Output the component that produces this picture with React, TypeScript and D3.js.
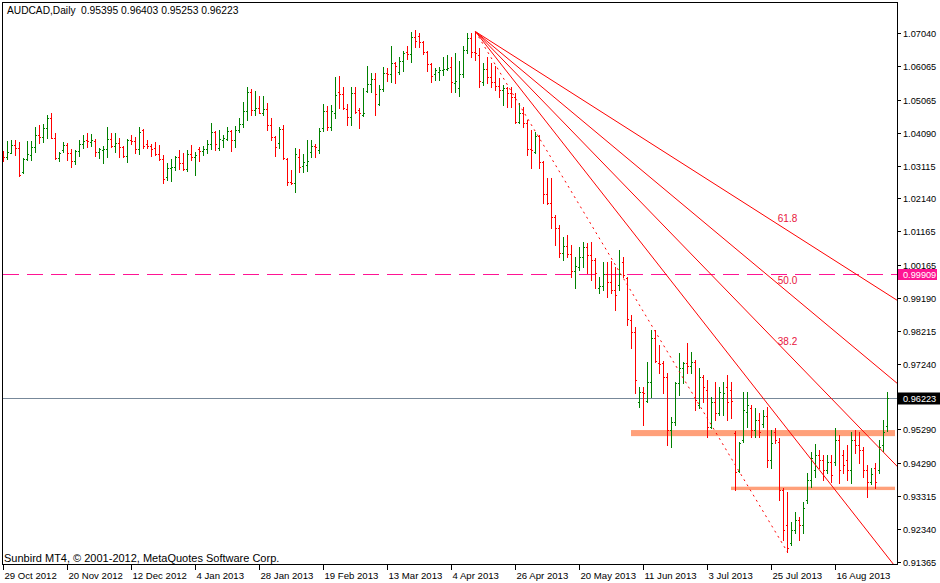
import React from 'react';
import * as d3 from 'd3';

const W = 940;
const H = 583;

// Daily OHLC, 29 Oct 2012 .. 2013-08 (bar index 0..221)
const opens = [
  1.0340, 1.0337, 1.0349, 1.0373, 1.0364, 1.0293, 1.0331, 1.0343, 1.0367, 1.0402,
  1.0396, 1.0423, 1.0453, 1.0393, 1.0334, 1.0358, 1.0373, 1.0349, 1.0325, 1.0355,
  1.0376, 1.0388, 1.0382, 1.0385, 1.0352, 1.0358, 1.0361, 1.0390, 1.0370, 1.0379,
  1.0367, 1.0340, 1.0388, 1.0385, 1.0361, 1.0417, 1.0376, 1.0370, 1.0364, 1.0346,
  1.0331, 1.0278, 1.0304, 1.0307, 1.0337, 1.0319, 1.0301, 1.0346, 1.0337, 1.0361,
  1.0355, 1.0361, 1.0376, 1.0411, 1.0364, 1.0388, 1.0390, 1.0414, 1.0388, 1.0417,
  1.0435, 1.0474, 1.0530, 1.0477, 1.0483, 1.0468, 1.0480, 1.0432, 1.0396, 1.0379,
  1.0420, 1.0331, 1.0263, 1.0260, 1.0337, 1.0310, 1.0313, 1.0352, 1.0370, 1.0358,
  1.0423, 1.0474, 1.0426, 1.0468, 1.0530, 1.0524, 1.0480, 1.0456, 1.0527, 1.0477,
  1.0462, 1.0533, 1.0554, 1.0568, 1.0494, 1.0539, 1.0586, 1.0583, 1.0616, 1.0589,
  1.0622, 1.0649, 1.0643, 1.0693, 1.0696, 1.0678, 1.0649, 1.0613, 1.0583, 1.0589,
  1.0595, 1.0598, 1.0604, 1.0557, 1.0542, 1.0583, 1.0655, 1.0690, 1.0649, 1.0640,
  1.0560, 1.0598, 1.0574, 1.0560, 1.0548, 1.0536, 1.0542, 1.0527, 1.0515, 1.0441,
  1.0468, 1.0438, 1.0361, 1.0352, 1.0399, 1.0322, 1.0228, 1.0201, 1.0159, 1.0126,
  1.0052, 1.0073, 1.0049, 0.9999, 1.0011, 1.0040, 1.0070, 1.0046, 1.0031, 0.9948,
  0.9954, 0.9990, 0.9966, 0.9942, 0.9957, 1.0025, 0.9978, 0.9854, 0.9818, 0.9610,
  0.9640, 0.9613, 0.9670, 0.9800, 0.9726, 0.9726, 0.9685, 0.9527, 0.9551, 0.9667,
  0.9711, 0.9726, 0.9717, 0.9729, 0.9601, 0.9685, 0.9646, 0.9536, 0.9610, 0.9578,
  0.9622, 0.9655, 0.9646, 0.9518, 0.9406, 0.9498, 0.9581, 0.9592, 0.9527, 0.9557,
  0.9545, 0.9569, 0.9438, 0.9521, 0.9492, 0.9349, 0.9245, 0.9192, 0.9231, 0.9260,
  0.9245, 0.9320, 0.9379, 0.9409, 0.9453, 0.9438, 0.9409, 0.9432, 0.9432, 0.9498,
  0.9453, 0.9438, 0.9409, 0.9498, 0.9483, 0.9468, 0.9409, 0.9373, 0.9415, 0.9409,
  0.9483, 0.95395,
];

const highs = [
  1.0355, 1.0385, 1.0388, 1.0388, 1.0382, 1.0334, 1.0385, 1.0385, 1.0426, 1.0432,
  1.0435, 1.0462, 1.0468, 1.0408, 1.0352, 1.0382, 1.0379, 1.0361, 1.0358, 1.0388,
  1.0402, 1.0408, 1.0405, 1.0390, 1.0364, 1.0370, 1.0426, 1.0408, 1.0408, 1.0393,
  1.0370, 1.0390, 1.0402, 1.0396, 1.0426, 1.0420, 1.0388, 1.0376, 1.0382, 1.0373,
  1.0343, 1.0319, 1.0331, 1.0340, 1.0358, 1.0349, 1.0358, 1.0373, 1.0352, 1.0367,
  1.0370, 1.0388, 1.0438, 1.0414, 1.0417, 1.0402, 1.0426, 1.0417, 1.0429, 1.0453,
  1.0500, 1.0545, 1.0539, 1.0533, 1.0518, 1.0518, 1.0497, 1.0453, 1.0399, 1.0426,
  1.0432, 1.0334, 1.0299, 1.0364, 1.0361, 1.0346, 1.0388, 1.0388, 1.0376, 1.0423,
  1.0494, 1.0488, 1.0491, 1.0574, 1.0577, 1.0545, 1.0494, 1.0545, 1.0545, 1.0483,
  1.0542, 1.0607, 1.0586, 1.0586, 1.0551, 1.0604, 1.0601, 1.0666, 1.0619, 1.0634,
  1.0652, 1.0666, 1.0708, 1.0714, 1.0705, 1.0681, 1.0652, 1.0616, 1.0601, 1.0604,
  1.0634, 1.0640, 1.0634, 1.0646, 1.0622, 1.0666, 1.0705, 1.0705, 1.0709, 1.0660,
  1.0616, 1.0634, 1.0616, 1.0607, 1.0571, 1.0551, 1.0545, 1.0545, 1.0527, 1.0497,
  1.0485, 1.0447, 1.0417, 1.0411, 1.0402, 1.0325, 1.0275, 1.0275, 1.0165, 1.0135,
  1.0100, 1.0106, 1.0076, 1.0040, 1.0070, 1.0085, 1.0082, 1.0085, 1.0037, 0.9981,
  1.0025, 1.0025, 1.0028, 1.0011, 1.0061, 1.0040, 0.9981, 0.9868, 0.9833, 0.9655,
  0.9655, 0.9729, 0.9824, 0.9824, 0.9779, 0.9732, 0.9696, 0.9566, 0.9670, 0.9756,
  0.9729, 0.9785, 0.9759, 0.9735, 0.9711, 0.9690, 0.9676, 0.9625, 0.9670, 0.9655,
  0.9670, 0.9690, 0.9670, 0.9524, 0.9492, 0.9640, 0.9640, 0.9601, 0.9592, 0.9578,
  0.9587, 0.9595, 0.9527, 0.9533, 0.9503, 0.9355, 0.9343, 0.9254, 0.9284, 0.9269,
  0.9314, 0.9400, 0.9462, 0.9486, 0.9468, 0.9453, 0.9453, 0.9453, 0.9533, 0.9512,
  0.9468, 0.9483, 0.9521, 0.9527, 0.9521, 0.9477, 0.9423, 0.9414, 0.9429, 0.9498,
  0.9557, 0.96403,
];

const lows = [
  1.0325, 1.0331, 1.0349, 1.0343, 1.0281, 1.0290, 1.0328, 1.0328, 1.0352, 1.0379,
  1.0382, 1.0393, 1.0393, 1.0331, 1.0325, 1.0352, 1.0328, 1.0307, 1.0316, 1.0340,
  1.0364, 1.0367, 1.0370, 1.0340, 1.0334, 1.0319, 1.0337, 1.0367, 1.0352, 1.0337,
  1.0337, 1.0322, 1.0376, 1.0349, 1.0346, 1.0364, 1.0364, 1.0340, 1.0343, 1.0328,
  1.0260, 1.0269, 1.0266, 1.0299, 1.0301, 1.0299, 1.0296, 1.0328, 1.0284, 1.0325,
  1.0343, 1.0349, 1.0361, 1.0358, 1.0358, 1.0367, 1.0388, 1.0355, 1.0367, 1.0411,
  1.0426, 1.0447, 1.0462, 1.0462, 1.0468, 1.0462, 1.0417, 1.0388, 1.0340, 1.0364,
  1.0331, 1.0254, 1.0257, 1.0233, 1.0293, 1.0293, 1.0296, 1.0337, 1.0337, 1.0349,
  1.0414, 1.0417, 1.0417, 1.0453, 1.0483, 1.0480, 1.0432, 1.0432, 1.0468, 1.0423,
  1.0459, 1.0530, 1.0530, 1.0462, 1.0491, 1.0533, 1.0563, 1.0560, 1.0557, 1.0583,
  1.0592, 1.0628, 1.0619, 1.0663, 1.0663, 1.0643, 1.0592, 1.0560, 1.0566, 1.0566,
  1.0580, 1.0595, 1.0530, 1.0530, 1.0518, 1.0574, 1.0646, 1.0634, 1.0625, 1.0545,
  1.0551, 1.0557, 1.0545, 1.0536, 1.0515, 1.0491, 1.0485, 1.0485, 1.0438, 1.0438,
  1.0426, 1.0343, 1.0304, 1.0349, 1.0304, 1.0201, 1.0198, 1.0126, 1.0076, 1.0040,
  1.0031, 1.0040, 0.9981, 0.9948, 1.0002, 1.0011, 0.9993, 0.9972, 0.9948, 0.9934,
  0.9942, 0.9922, 0.9934, 0.9883, 0.9942, 0.9981, 0.9838, 0.9770, 0.9637, 0.9595,
  0.9542, 0.9610, 0.9625, 0.9729, 0.9696, 0.9637, 0.9483, 0.9477, 0.9542, 0.9631,
  0.9667, 0.9696, 0.9696, 0.9587, 0.9592, 0.9610, 0.9507, 0.9533, 0.9557, 0.9572,
  0.9572, 0.9557, 0.9563, 0.9349, 0.9403, 0.9492, 0.9536, 0.9507, 0.9507, 0.9507,
  0.9536, 0.9417, 0.9414, 0.9489, 0.9320, 0.9201, 0.9165, 0.9186, 0.9222, 0.9201,
  0.9222, 0.9311, 0.9358, 0.9388, 0.9414, 0.9379, 0.9400, 0.9373, 0.9424, 0.9370,
  0.9400, 0.9379, 0.9370, 0.9459, 0.9429, 0.9388, 0.9329, 0.9367, 0.9355, 0.9400,
  0.9465, 0.95253,
];

const closes = [
  1.0337, 1.0352, 1.0373, 1.0364, 1.0284, 1.0331, 1.0346, 1.0367, 1.0402, 1.0396,
  1.0423, 1.0453, 1.0393, 1.0334, 1.0349, 1.0373, 1.0349, 1.0325, 1.0355, 1.0376,
  1.0385, 1.0385, 1.0388, 1.0352, 1.0361, 1.0361, 1.0390, 1.0370, 1.0379, 1.0367,
  1.0340, 1.0388, 1.0385, 1.0361, 1.0411, 1.0370, 1.0370, 1.0361, 1.0346, 1.0331,
  1.0272, 1.0304, 1.0307, 1.0337, 1.0319, 1.0301, 1.0346, 1.0337, 1.0343, 1.0355,
  1.0361, 1.0376, 1.0411, 1.0376, 1.0390, 1.0393, 1.0414, 1.0388, 1.0417, 1.0435,
  1.0474, 1.0530, 1.0477, 1.0483, 1.0468, 1.0480, 1.0432, 1.0396, 1.0367, 1.0420,
  1.0334, 1.0263, 1.0260, 1.0346, 1.0307, 1.0322, 1.0325, 1.0370, 1.0367, 1.0414,
  1.0474, 1.0426, 1.0474, 1.0521, 1.0524, 1.0483, 1.0456, 1.0527, 1.0471, 1.0468,
  1.0468, 1.0554, 1.0568, 1.0524, 1.0539, 1.0586, 1.0583, 1.0616, 1.0607, 1.0622,
  1.0646, 1.0643, 1.0693, 1.0681, 1.0678, 1.0649, 1.0613, 1.0577, 1.0595, 1.0595,
  1.0598, 1.0601, 1.0560, 1.0563, 1.0583, 1.0655, 1.0690, 1.0649, 1.0646, 1.0563,
  1.0598, 1.0574, 1.0560, 1.0548, 1.0536, 1.0542, 1.0527, 1.0515, 1.0441, 1.0468,
  1.0438, 1.0361, 1.0358, 1.0399, 1.0322, 1.0228, 1.0201, 1.0159, 1.0126, 1.0052,
  1.0073, 1.0049, 0.9999, 1.0013, 1.0040, 1.0070, 1.0046, 1.0031, 0.9993, 0.9954,
  0.9990, 0.9966, 0.9942, 0.9928, 0.9990, 0.9987, 0.9857, 0.9818, 0.9676, 0.9640,
  0.9637, 0.9670, 0.9800, 0.9732, 0.9723, 0.9685, 0.9527, 0.9551, 0.9667, 0.9711,
  0.9726, 0.9717, 0.9729, 0.9616, 0.9685, 0.9655, 0.9536, 0.9610, 0.9578, 0.9640,
  0.9637, 0.9610, 0.9613, 0.9403, 0.9489, 0.9587, 0.9601, 0.9527, 0.9557, 0.9521,
  0.9569, 0.9438, 0.9489, 0.9498, 0.9349, 0.9231, 0.9177, 0.9231, 0.9260, 0.9245,
  0.9296, 0.9379, 0.9444, 0.9453, 0.9438, 0.9409, 0.9432, 0.9394, 0.9498, 0.9409,
  0.9424, 0.9409, 0.9498, 0.9483, 0.9468, 0.9409, 0.9373, 0.9397, 0.9373, 0.9477,
  0.9521, 0.96223,
];

const priceTicks = [
  1.0704, 1.06065, 1.05065, 1.0409, 1.03115, 1.0214, 1.01165, 1.00165,
  0.9919, 0.98215, 0.9724, 0.9529, 0.9429, 0.93315, 0.9234, 0.91365,
];
const priceDomain = [0.91365, 1.0704];

const dateTickBars = [0, 16, 32, 48, 64, 80, 96, 112, 128, 144, 160, 176, 192, 208];
const dateLabels = [
  '29 Oct 2012', '20 Nov 2012', '12 Dec 2012', '4 Jan 2013', '28 Jan 2013',
  '19 Feb 2013', '13 Mar 2013', '4 Apr 2013', '26 Apr 2013', '20 May 2013',
  '11 Jun 2013', '3 Jul 2013', '25 Jul 2013', '16 Aug 2013',
];

// Fibonacci fan: from the April high to the July low
const fanBars = [118, 196];
const fanPrices = [1.0709, 0.9165];
const fanLevels = [0.236, 0.382, 0.5, 0.618];
const fanLabels = ['', '38.2', '50.0', '61.8'];

// horizontal levels
const pinkLevel = 0.99909;
const currentPrice = 0.96223;

// support / resistance zones
const zoneBars = [[157, 223], [182, 223]];
const zonePrices = [[0.9527, 0.9509], [0.9359, 0.9349]];

const titleSymbol = 'AUDCAD,Daily';
const titleValues = '0.95395 0.96403 0.95253 0.96223';
const copyright = 'Sunbird MT4, \u00A9 2001-2012, MetaQuotes Software Corp.';

const FONT = "'Liberation Sans', Arial, sans-serif";

export default function App() {
  const n = opens.length;
  const x = d3.scaleLinear().domain([0, n - 1]).range([3, 887]);
  const y = d3.scaleLinear().domain(priceDomain).range([561.7, 33.3]);

  const frame = { l: 2.5, t: 2.5, r: 897.5, b: 564.5 };

  const bars = d3.range(n).map((i) => {
    const o = opens[i], h = highs[i], l = lows[i], c = closes[i];
    const px = Math.round(x(i));
    const top = Math.round(y(Math.max(h, o, c)));
    const bot = Math.round(y(Math.min(l, o, c)));
    const yo = Math.round(y(o));
    const yc = Math.round(y(c));
    const col = c >= o ? '#008000' : '#FF0000';
    return (
      <g key={i} fill={col}>
        <rect x={px} y={top} width={1} height={bot - top + 1} />
        <rect x={px - 1} y={yo} width={1} height={1} />
        <rect x={px + 1} y={yc} width={1} height={1} />
      </g>
    );
  });

  const x0 = x(fanBars[0]) + 0.5;
  const y0 = y(fanPrices[0]);
  const x1 = x(fanBars[1]) + 0.5;
  const p0 = fanPrices[0];
  const p1 = fanPrices[1];

  const fanLines = fanLevels.map((lv, k) => {
    const yl = y(p1 + lv * (p0 - p1));
    const xe = x0 + (x1 - x0) * 6;
    const ye = y0 + (yl - y0) * 6;
    return (
      <line key={k} x1={x0} y1={y0} x2={xe} y2={ye} stroke="#FF0000" strokeWidth={1} />
    );
  });

  const fanTexts = fanLevels.map((lv, k) =>
    fanLabels[k] ? (
      <text key={k} x={x1} y={y(p1 + lv * (p0 - p1)) - 8} textAnchor="middle" fontSize={10} fontFamily={FONT} fill="#E8143C">
        {fanLabels[k]}
      </text>
    ) : null
  );

  const yPink = Math.round(y(pinkLevel)) + 0.5;
  const yCur = Math.round(y(currentPrice)) + 0.5;

  return (
    <svg width={W} height={H} style={{ position: 'absolute', left: 0, top: 0, display: 'block', background: '#fff' }}>
      <defs>
        <clipPath id="plot">
          <rect x={3} y={3} width={894} height={561} />
        </clipPath>
      </defs>
      <rect x={0} y={0} width={W} height={H} fill="#fff" />

      <g clipPath="url(#plot)">
        {zoneBars.map((zb, k) => (
          <rect
            key={k}
            x={x(zb[0])}
            y={y(zonePrices[k][0])}
            width={x(zb[1]) - x(zb[0])}
            height={y(zonePrices[k][1]) - y(zonePrices[k][0])}
            fill="#FFA07A"
          />
        ))}
        <line x1={3} x2={897} y1={yPink} y2={yPink} stroke="#FF1493" strokeDasharray="16,8" strokeWidth={1} />
        <line x1={3} x2={897} y1={yCur} y2={yCur} stroke="#778899" strokeWidth={1} />
        {bars}
        {fanLines}
        <line x1={x0} y1={y0} x2={x1} y2={y(p1)} stroke="#FF0000" strokeWidth={1} strokeDasharray="2,4" />
        {fanTexts}
      </g>

      <text x={7} y={14} fontSize={10.2} fontFamily={FONT} fill="#000">
        <tspan>{titleSymbol}</tspan>
        <tspan x={81} fontSize={10.3}>{titleValues}</tspan>
      </text>
      <text x={4} y={562} fontSize={11} fontFamily={FONT} fill="#000">{copyright}</text>

      <rect x={frame.l} y={frame.t} width={frame.r - frame.l} height={frame.b - frame.t} fill="none" stroke="#000" strokeWidth={1} />

      {priceTicks.map((v, k) => {
        const ty = Math.round(y(v)) + 0.5;
        return (
          <g key={k}>
            <line x1={897} x2={901} y1={ty} y2={ty} stroke="#000" />
            <text x={903} y={ty + 3.5} fontSize={9.2} fontFamily={FONT} fill="#000">{v.toFixed(5)}</text>
          </g>
        );
      })}

      {dateTickBars.map((b, k) => {
        const tx = Math.round(x(b)) + 0.5;
        return (
          <g key={k}>
            <line x1={tx} x2={tx} y1={565} y2={570} stroke="#000" />
            <text x={tx + 1} y={578.5} fontSize={9.6} fontFamily={FONT} fill="#000">{dateLabels[k]}</text>
          </g>
        );
      })}

      <rect x={898} y={yPink - 5.5} width={39} height={11} fill="#FF1493" />
      <text x={903} y={yPink + 3.5} fontSize={9.2} fontFamily={FONT} fill="#fff">{pinkLevel.toFixed(5)}</text>
      <rect x={898} y={yCur - 6} width={42} height={12} fill="#000" />
      <text x={903} y={yCur + 3.5} fontSize={9.2} fontFamily={FONT} fill="#fff">{currentPrice.toFixed(5)}</text>
    </svg>
  );
}
